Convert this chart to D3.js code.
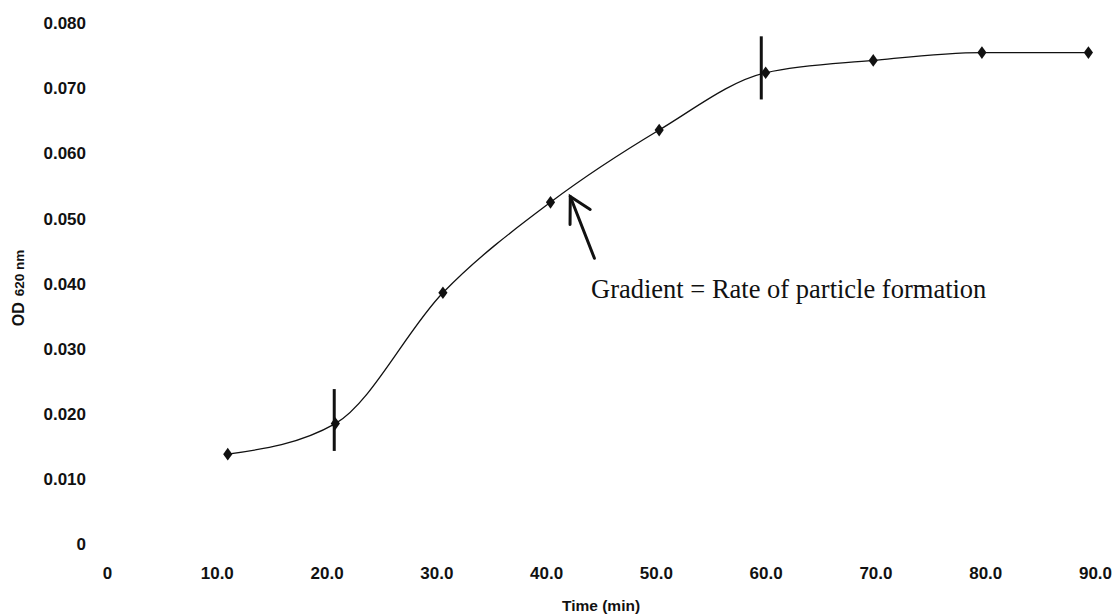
<!DOCTYPE html>
<html>
<head>
<meta charset="utf-8">
<script src="https://cdn.jsdelivr.net/npm/d3@7"></script>
<style>
  html, body { margin: 0; padding: 0; background: #fff; }
  svg { display: block; }
  .tick text { font-family: "Liberation Sans", Arial, sans-serif; font-weight: bold; font-size: 17px; fill: #111; }
</style>
</head>
<body>
<svg id="chart" width="1114" height="616"></svg>
<script>
// Sampling times (min) and optical density at 620 nm
const times = [11.0, 20.8, 30.6, 40.4, 50.3, 60.0, 69.8, 79.7, 89.4];
const od    = [0.0138, 0.0185, 0.0386, 0.0525, 0.0636, 0.0724, 0.0743, 0.0755, 0.0755];

// Error bars drawn at two of the samples
const errTimes = [20.7, 59.6];
const errLow   = [0.0143, 0.0683];
const errHigh  = [0.0238, 0.0780];

// Axis ticks
const xTicks = [0, 10, 20, 30, 40, 50, 60, 70, 80, 90];
const yTicks = [0, 0.01, 0.02, 0.03, 0.04, 0.05, 0.06, 0.07, 0.08];

// Annotation arrow (tail -> tip) in data units, and its label
const arrowTail = [44.4, 0.0439];
const arrowTip  = [42.2, 0.0534];
const noteText  = "Gradient = Rate of particle formation";

const svg = d3.select("#chart");
svg.append("rect").attr("width", 1114).attr("height", 616).attr("fill", "#fff");

const x = d3.scaleLinear().domain([0, 90]).range([107, 1095]);
const y = d3.scaleLinear().domain([0, 0.08]).range([544, 23.3]);

// Axes: tick labels only, no axis lines
const xAxis = d3.axisBottom(x).tickValues(xTicks).tickSize(0).tickPadding(7)
  .tickFormat(d => d === 0 ? "0" : d.toFixed(1));
const gx = svg.append("g").attr("transform", "translate(0,560)").call(xAxis);
gx.select(".domain").remove();

const yAxis = d3.axisLeft(y).tickValues(yTicks).tickSize(0).tickPadding(3)
  .tickFormat(d => d === 0 ? "0" : d.toFixed(3));
const gy = svg.append("g").attr("transform", "translate(89,0)").call(yAxis);
gy.select(".domain").remove();

// Axis titles
svg.append("text")
  .attr("x", 562).attr("y", 611)
  .attr("text-anchor", "start")
  .attr("font-family", "Liberation Sans, Arial, sans-serif")
  .attr("font-weight", "bold").attr("font-size", 15.5).attr("fill", "#111")
  .text("Time (min)");

const yt = svg.append("text")
  .attr("transform", "translate(24,288) rotate(-90)")
  .attr("text-anchor", "middle")
  .attr("font-family", "Liberation Sans, Arial, sans-serif")
  .attr("font-weight", "bold").attr("font-size", 16).attr("fill", "#111");
yt.append("tspan").text("OD");
yt.append("tspan").attr("dx", 6).attr("font-size", 13.5).text("620 nm");

// Growth curve
const pts = times.map((t, i) => [t, od[i]]);
const line = d3.line().x(d => x(d[0])).y(d => y(d[1])).curve(d3.curveMonotoneX);
svg.append("path")
  .attr("d", line(pts))
  .attr("fill", "none").attr("stroke", "#111").attr("stroke-width", 1.3);

// Error bars
svg.append("g").selectAll("line").data(errTimes).join("line")
  .attr("x1", d => x(d)).attr("x2", d => x(d))
  .attr("y1", (d, i) => y(errHigh[i])).attr("y2", (d, i) => y(errLow[i]))
  .attr("stroke", "#111").attr("stroke-width", 3);

// Diamond markers
const diamond = d3.symbol().type(d3.symbolDiamond).size(55);
svg.append("g").selectAll("path").data(pts).join("path")
  .attr("d", diamond)
  .attr("transform", d => `translate(${x(d[0])},${y(d[1])}) scale(1.15,0.92)`)
  .attr("fill", "#111");

// Annotation arrow
const tx = x(arrowTip[0]), ty = y(arrowTip[1]);
const sx = x(arrowTail[0]), sy = y(arrowTail[1]);
const ang = Math.atan2(sy - ty, sx - tx);
const barb = 28;
const arrow = svg.append("g").attr("stroke", "#111").attr("stroke-width", 3)
  .attr("stroke-linecap", "round").attr("fill", "none");
arrow.append("line").attr("x1", sx).attr("y1", sy).attr("x2", tx).attr("y2", ty);
arrow.append("polyline").attr("points", [
  [tx + barb * Math.cos(ang + 0.38), ty + barb * Math.sin(ang + 0.38)],
  [tx, ty],
  [tx + barb * 0.85 * Math.cos(ang - 0.62), ty + barb * 0.85 * Math.sin(ang - 0.62)]
].map(p => p.join(",")).join(" "));

svg.append("text")
  .attr("x", 591).attr("y", 298)
  .attr("font-family", "Liberation Serif, 'Times New Roman', serif")
  .attr("font-size", 26.5).attr("fill", "#111")
  .text(noteText);
</script>
</body>
</html>
